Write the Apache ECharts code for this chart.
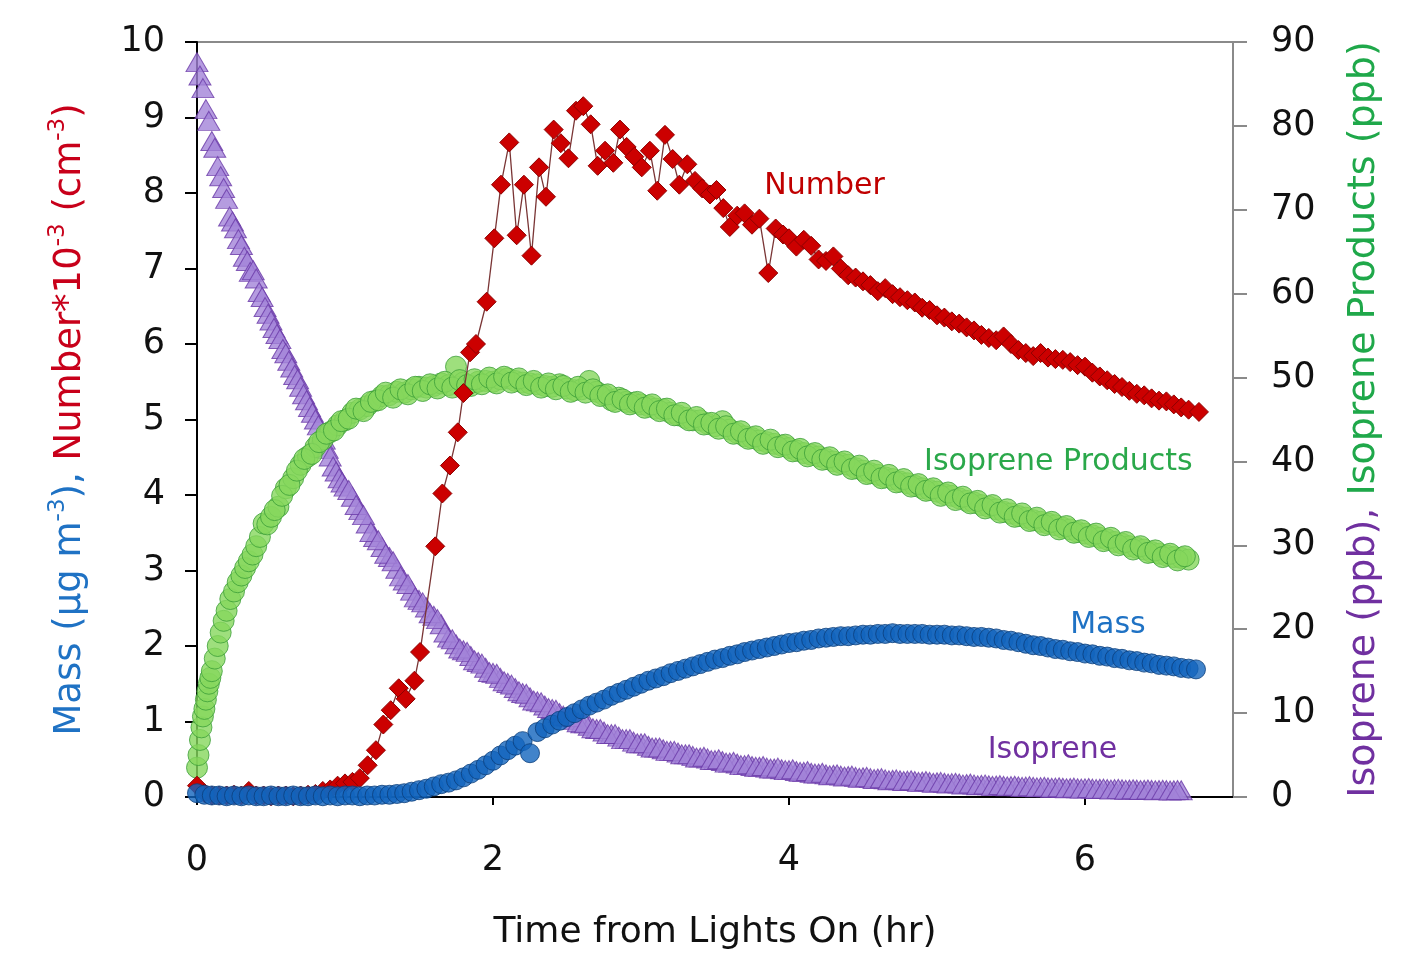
<!DOCTYPE html>
<html>
<head>
<meta charset="utf-8">
<script src="https://cdn.jsdelivr.net/npm/echarts@6/dist/echarts.min.js"></script>
<style>
  html, body { margin: 0; padding: 0; background: #ffffff; }
  #chart { width: 1411px; height: 980px; }
</style>
</head>
<body>
<div id="chart"></div>
<script>
// Chamber run: particle mass/number (left axis) and isoprene/products (right axis)
// versus time after the lights are switched on.

// Sampling times (hr) for aerosol mass
const massTime = [
  0.00,0.05,0.10,0.15,0.20,0.25,0.30,0.35,0.40,0.45,0.50,0.55,0.60,0.65,0.70,0.75,0.80,0.85,0.90,0.95,
  1.00,1.05,1.10,1.15,1.20,1.25,1.30,1.35,1.40,1.45,1.50,1.55,1.60,1.65,1.70,1.75,1.80,1.85,1.90,1.95,
  2.00,2.05,2.10,2.15,2.20,2.25,2.30,2.35,2.40,2.45,2.50,2.55,2.60,2.65,2.70,2.75,2.80,2.85,2.90,2.95,
  3.00,3.05,3.10,3.15,3.20,3.25,3.30,3.35,3.40,3.45,3.50,3.55,3.60,3.65,3.70,3.75,3.80,3.85,3.90,3.95,
  4.00,4.05,4.10,4.15,4.20,4.25,4.30,4.35,4.40,4.45,4.50,4.55,4.60,4.65,4.70,4.75,4.80,4.85,4.90,4.95,
  5.00,5.05,5.10,5.15,5.20,5.25,5.30,5.35,5.40,5.45,5.50,5.55,5.60,5.65,5.70,5.75,5.80,5.85,5.90,5.95,
  6.00,6.05,6.10,6.15,6.20,6.25,6.30,6.35,6.40,6.45,6.50,6.55,6.60,6.65,6.70,6.75
];
// Aerosol mass (µg m-3)
const massValue = [
  0.05,0.03,0.02,0.02,0.01,0.02,0.01,0.02,0.01,0.01,0.02,0.01,0.01,0.02,0.01,0.01,0.02,0.01,0.02,0.01,
  0.02,0.02,0.01,0.02,0.02,0.03,0.03,0.04,0.05,0.07,0.09,0.11,0.14,0.17,0.19,0.22,0.26,0.31,0.36,0.42,
  0.48,0.55,0.62,0.68,0.74,0.58,0.86,0.91,0.96,1.01,1.06,1.11,1.16,1.21,1.25,1.29,1.34,1.38,1.42,1.46,
  1.50,1.54,1.57,1.60,1.64,1.67,1.70,1.73,1.76,1.79,1.82,1.84,1.87,1.89,1.92,1.94,1.96,1.98,2.00,2.02,
  2.04,2.05,2.07,2.08,2.10,2.11,2.12,2.13,2.13,2.14,2.15,2.15,2.16,2.16,2.17,2.16,2.16,2.16,2.16,2.15,
  2.15,2.15,2.14,2.14,2.13,2.12,2.12,2.11,2.10,2.08,2.07,2.05,2.03,2.01,2.00,1.98,1.96,1.95,1.93,1.92,
  1.90,1.89,1.87,1.86,1.84,1.83,1.81,1.80,1.78,1.77,1.75,1.74,1.73,1.71,1.70,1.69
];

// Particle number (x10^-3 cm-3)
const numberTime = [
  0.00,0.05,0.10,0.15,0.20,0.25,0.30,0.35,0.40,0.45,0.50,0.55,0.60,0.65,0.70,0.75,0.80,0.85,0.90,0.95,
  1.00,1.05,1.10,1.153,1.209,1.259,1.309,1.363,1.41,1.469,1.507,1.61,1.658,1.709,1.762,1.80,1.845,1.885,1.957,
  2.009,2.054,2.11,2.16,2.209,2.26,2.311,2.358,2.41,2.458,2.51,2.561,2.61,2.66,2.707,2.757,2.813,2.858,2.903,2.955,
  3.005,3.06,3.11,3.162,3.214,3.259,3.313,3.365,3.414,3.466,3.51,3.556,3.60,3.65,3.70,3.75,3.80,3.86,3.91,3.96,
  4.00,4.05,4.10,4.15,4.20,4.25,4.30,4.35,4.40,4.45,4.50,4.55,4.60,4.65,4.70,4.75,4.80,4.85,4.90,4.95,
  5.00,5.05,5.10,5.15,5.20,5.25,5.30,5.35,5.40,5.45,5.50,5.55,5.60,5.65,5.70,5.75,5.80,5.85,5.90,5.95,
  6.00,6.05,6.10,6.15,6.20,6.25,6.30,6.35,6.40,6.45,6.50,6.55,6.60,6.65,6.70,6.77
];
const numberValue = [
  0.15,0.05,0.02,0.02,0.02,0.03,0.02,0.08,0.02,0.02,0.01,0.02,0.02,0.01,0.02,0.03,0.04,0.08,0.10,0.15,
  0.18,0.20,0.25,0.42,0.62,0.96,1.15,1.44,1.30,1.54,1.92,3.32,4.02,4.39,4.83,5.35,5.89,6.00,6.56,
  7.40,8.11,8.67,7.44,8.11,7.17,8.34,7.95,8.84,8.66,8.46,9.09,9.15,8.91,8.36,8.56,8.40,8.84,8.61,8.48,
  8.34,8.56,8.03,8.77,8.45,8.11,8.38,8.16,8.06,7.98,8.04,7.80,7.55,7.70,7.73,7.58,7.66,6.94,7.53,7.45,
  7.40,7.29,7.38,7.30,7.12,7.10,7.16,7.00,6.91,6.88,6.83,6.78,6.70,6.74,6.66,6.62,6.58,6.55,6.48,6.45,
  6.38,6.35,6.30,6.27,6.22,6.18,6.12,6.08,6.05,6.10,6.00,5.92,5.88,5.84,5.88,5.82,5.80,5.79,5.76,5.72,
  5.70,5.62,5.57,5.52,5.47,5.43,5.38,5.34,5.32,5.28,5.25,5.24,5.20,5.16,5.13,5.10
];

// Isoprene (ppb)
const isopreneTime = [
  0.00,0.02,0.04,0.06,0.08,0.10,0.12,0.14,0.16,0.18,0.20,0.22,0.24,0.26,0.28,0.30,0.32,0.34,0.36,0.38,
  0.40,0.42,0.44,0.46,0.48,0.50,0.52,0.54,0.56,0.58,0.60,0.62,0.64,0.66,0.68,0.70,0.72,0.74,0.76,0.78,
  0.80,0.82,0.84,0.86,0.88,0.90,0.92,0.94,0.96,0.98,
  1.00,1.05,1.10,1.15,1.20,1.25,1.30,1.35,1.40,1.45,1.50,1.55,1.60,1.65,1.70,1.75,1.80,1.85,1.90,1.95,
  2.00,2.05,2.10,2.15,2.20,2.25,2.30,2.35,2.40,2.45,2.50,2.55,2.60,2.65,2.70,2.75,2.80,2.85,2.90,2.95,
  3.00,3.05,3.10,3.15,3.20,3.25,3.30,3.35,3.40,3.45,3.50,3.55,3.60,3.65,3.70,3.75,3.80,3.85,3.90,3.95,
  4.00,4.05,4.10,4.15,4.20,4.25,4.30,4.35,4.40,4.45,4.50,4.55,4.60,4.65,4.70,4.75,4.80,4.85,4.90,4.95,
  5.00,5.05,5.10,5.15,5.20,5.25,5.30,5.35,5.40,5.45,5.50,5.55,5.60,5.65,5.70,5.75,5.80,5.85,5.90,5.95,
  6.00,6.05,6.10,6.15,6.20,6.25,6.30,6.35,6.40,6.45,6.50,6.55,6.60,6.65,
  1.025,1.075,1.125,1.175,1.225,1.275,1.325,1.375,1.425,1.475,1.525,1.575,1.625,1.675,1.725,1.775,1.825,1.875,1.925,1.975,
  2.025,2.075,2.125,2.175,2.225,2.275,2.325,2.375,2.425,2.475,2.525,2.575,2.625,2.675,2.725,2.775,2.825,2.875,2.925,2.975,
  3.025,3.075,3.125,3.175,3.225,3.275,3.325,3.375,3.425,3.475,3.525,3.575,3.625,3.675,3.725,3.775,3.825,3.875,3.925,3.975,
  4.025,4.075,4.125,4.175,4.225,4.275,4.325,4.375,4.425,4.475,4.525,4.575,4.625,4.675,4.725,4.775,4.825,4.875,4.925,4.975,
  5.025,5.075,5.125,5.175,5.225,5.275,5.325,5.375,5.425,5.475,5.525,5.575,5.625,5.675,5.725,5.775,5.825,5.875,5.925,5.975,
  6.025,6.075,6.125,6.175,6.225,6.275,6.325,6.375,6.425,6.475,6.525,6.575,6.625
];
const isopreneValue = [
  87.6,86.0,84.5,82.0,80.6,78.2,77.4,75.2,74.0,72.6,71.3,69.2,68.6,67.8,66.5,65.8,64.4,63.9,62.6,62.8,
  61.8,60.2,59.6,58.4,57.6,56.8,55.9,55.2,54.6,53.4,52.9,52.0,51.2,50.3,49.8,48.9,48.0,47.3,46.5,45.8,
  45.0,44.3,43.2,42.6,41.5,40.6,39.4,38.8,38.0,37.5,
  37.0,35.8,34.2,32.6,31.0,29.8,28.6,27.2,25.8,24.6,23.5,22.6,21.6,20.6,19.0,18.2,17.5,16.8,16.1,15.4,
  14.8,14.2,13.6,13.0,12.4,11.9,11.4,10.9,10.5,10.0,9.6,9.2,8.8,8.5,8.1,7.8,7.5,7.2,6.9,6.6,
  6.4,6.1,5.9,5.7,5.5,5.3,5.1,4.9,4.7,4.6,4.4,4.3,4.1,4.0,3.8,3.7,3.6,3.5,3.4,3.3,
  3.2,3.1,3.0,2.9,2.8,2.7,2.65,2.55,2.5,2.4,2.35,2.25,2.2,2.1,2.05,2.0,1.95,1.9,1.85,1.8,
  1.75,1.7,1.65,1.6,1.55,1.5,1.45,1.4,1.37,1.33,1.3,1.27,1.24,1.21,1.18,1.15,1.12,1.1,1.07,1.05,
  1.03,1.0,0.98,0.96,0.94,0.92,0.9,0.88,0.86,0.85,0.83,0.82,0.8,0.8,
  36.6,34.8,33.6,31.6,30.6,29.0,28.1,26.3,25.4,23.8,23.2,21.9,21.2,19.6,18.8,17.7,17.3,16.3,15.9,14.9,
  14.7,13.8,13.4,12.6,12.3,11.5,11.3,10.6,10.4,9.7,9.5,8.9,8.8,8.2,8.1,7.5,7.5,6.9,6.9,6.4,
  6.4,5.9,5.9,5.5,5.5,5.1,5.1,4.7,4.8,4.4,4.5,4.1,4.2,3.8,3.9,3.6,3.7,3.4,3.5,3.2,
  3.3,3.0,3.1,2.8,2.9,2.6,2.7,2.45,2.55,2.3,2.4,2.15,2.25,2.0,2.1,1.9,2.0,1.8,1.9,1.7,
  1.8,1.6,1.7,1.5,1.6,1.4,1.5,1.33,1.42,1.27,1.35,1.21,1.3,1.15,1.22,1.1,1.16,1.05,1.12,1.0,
  1.07,0.95,1.0,0.9,0.97,0.87,0.93,0.83,0.9,0.8,0.86,0.78,0.83
];

// Isoprene oxidation products (ppb)
const productsTime = [
  0.00,0.01,0.02,0.03,0.04,0.05,0.06,0.07,0.08,0.09,0.10,0.12,0.14,0.16,0.18,0.20,
  0.225,0.25,0.275,0.30,0.325,0.35,0.375,0.40,0.425,0.45,0.475,
  0.50,0.55,0.60,0.65,0.70,0.75,0.80,0.85,0.90,0.95,
  1.00,1.05,1.10,1.15,1.20,1.25,1.30,1.35,1.40,1.45,1.50,1.55,1.60,1.65,1.70,1.75,1.80,1.85,1.90,1.95,
  2.00,2.05,2.10,2.15,2.20,2.25,2.30,2.35,2.40,2.45,2.50,2.55,2.60,2.65,2.70,2.75,2.80,2.85,2.90,2.95,
  3.00,3.05,3.10,3.15,3.20,3.25,3.30,3.35,3.40,3.45,3.50,3.55,3.60,3.65,3.70,3.75,3.80,3.85,3.90,3.95,
  4.00,4.05,4.10,4.15,4.20,4.25,4.30,4.35,4.40,4.45,4.50,4.55,4.60,4.65,4.70,4.75,4.80,4.85,4.90,4.95,
  5.00,5.05,5.10,5.15,5.20,5.25,5.30,5.35,5.40,5.45,5.50,5.55,5.60,5.65,5.70,5.75,5.80,5.85,5.90,5.95,
  6.00,6.05,6.10,6.15,6.20,6.25,6.30,6.35,6.40,6.45,6.50,6.55,6.60,6.65,6.70,
  0.525,0.575,0.625,0.675,0.725,0.775,0.825,0.875,0.925,0.975,
  1.025,1.075,1.125,1.175,1.225,1.275,1.325,1.375,1.425,1.475,1.525,1.575,1.625,1.675,1.725,1.775,1.825,1.875,1.925,1.975,
  2.025,2.075,2.125,2.175,2.225,2.275,2.325,2.375,2.425,2.475,2.525,2.575,2.625,2.675,2.725,2.775,2.825,2.875,2.925,2.975,
  3.025,3.075,3.125,3.175,3.225,3.275,3.325,3.375,3.425,3.475,3.525,3.575,3.625,3.675,3.725,3.775,3.825,3.875,3.925,3.975,
  4.025,4.075,4.125,4.175,4.225,4.275,4.325,4.375,4.425,4.475,4.525,4.575,4.625,4.675,4.725,4.775,4.825,4.875,4.925,4.975,
  5.025,5.075,5.125,5.175,5.225,5.275,5.325,5.375,5.425,5.475,5.525,5.575,5.625,5.675,5.725,5.775,5.825,5.875,5.925,5.975,
  6.025,6.075,6.125,6.175,6.225,6.275,6.325,6.375,6.425,6.475,6.525,6.575,6.625,6.675
];
const productsValue = [
  3.5,5.0,6.8,8.3,9.6,10.5,11.6,12.6,13.5,14.2,15.0,16.5,18.0,19.6,21.0,22.2,
  23.6,24.5,25.6,26.4,27.3,28.1,28.9,29.9,31.0,32.6,32.5,
  33.4,34.6,36.8,38.0,39.6,40.6,41.7,42.6,43.5,44.3,
  44.9,45.8,46.2,46.6,47.2,47.8,47.9,48.3,48.2,48.6,48.9,48.8,49.0,49.3,49.1,51.3,49.4,49.0,49.5,49.6,
  49.5,49.8,49.9,49.6,49.4,49.3,49.2,49.0,48.9,49.2,48.7,48.5,48.6,49.6,48.3,47.9,47.3,47.6,47.1,47.0,
  46.8,46.6,46.3,46.2,45.8,45.5,45.2,44.9,44.9,44.5,44.2,44.8,43.8,43.4,43.0,42.8,42.5,42.3,42.1,41.9,
  41.6,41.3,41.0,40.8,40.6,40.3,40.0,39.8,39.6,39.2,38.9,38.6,38.4,38.1,37.9,37.6,37.4,37.1,36.8,36.6,
  36.4,36.1,35.9,35.6,35.3,35.1,34.8,34.6,34.3,34.0,33.8,33.5,33.3,33.0,32.8,32.6,32.4,32.1,31.9,31.6,
  31.4,31.2,30.9,30.7,30.4,30.2,29.9,29.7,29.5,29.2,29.0,28.8,28.6,28.5,28.3,
  34.2,35.9,37.2,38.9,40.3,40.9,42.3,43.3,43.7,44.8,
  45.1,46.3,46.0,47.1,47.3,48.2,47.6,48.6,48.0,48.9,48.4,49.2,48.7,49.5,48.8,49.7,49.1,49.8,49.2,50.0,
  49.3,50.1,49.4,49.9,49.1,49.6,48.8,49.3,48.6,49.0,48.3,48.9,48.2,48.6,47.8,48.0,47.1,47.4,46.8,47.1,
  46.4,46.8,46.0,46.3,45.5,45.8,44.9,45.3,44.4,44.6,43.9,44.2,43.3,43.6,42.7,43.0,42.1,42.6,41.7,42.0,
  41.2,41.5,40.6,41.0,40.2,40.5,39.6,40.0,39.1,39.5,38.5,38.9,38.0,38.4,37.5,37.9,37.0,37.3,36.5,36.8,
  35.9,36.3,35.4,35.8,35.0,35.3,34.4,34.8,33.9,34.3,33.4,33.8,32.9,33.3,32.4,32.8,31.9,32.3,31.5,31.8,
  31.0,31.4,30.5,30.9,30.0,30.4,29.5,29.9,29.1,29.4,28.6,29.0,28.2,28.7
];

// Axis tick values
const timeTicks = [0, 2, 4, 6];

const FONT = '"DejaVu Sans", "Liberation Sans", Arial, sans-serif';
const pairs = (xs, ys) => xs.map((x, i) => [x, ys[i]]);

const chart = echarts.init(document.getElementById('chart'), null, { renderer: 'canvas' });

chart.setOption({
  animation: false,
  backgroundColor: '#ffffff',
  grid: {
    left: 197, right: 178, top: 42, bottom: 183,
    show: true, borderColor: '#8a8a8a', borderWidth: 2, backgroundColor: 'transparent'
  },
  xAxis: {
    type: 'value', min: 0, max: 7,
    axisLine: { show: true, onZero: false, lineStyle: { color: '#000', width: 2 } },
    axisTick: { show: true, inside: false, length: 8, customValues: timeTicks, lineStyle: { color: '#000', width: 2 } },
    axisLabel: { customValues: timeTicks, margin: 46, fontSize: 35, color: '#111', fontFamily: FONT },
    splitLine: { show: false },
    name: 'Time from Lights On (hr)',
    nameLocation: 'middle', nameGap: 118,
    nameTextStyle: { fontSize: 36, color: '#111', fontFamily: FONT }
  },
  yAxis: [
    {
      type: 'value', min: 0, max: 10, interval: 1, position: 'left',
      axisLine: { show: true, onZero: false, lineStyle: { color: '#000', width: 2 } },
      axisTick: { show: true, inside: false, length: 12, lineStyle: { color: '#000', width: 2 } },
      axisLabel: { margin: 32, fontSize: 35, color: '#111', fontFamily: FONT },
      splitLine: { show: false },
      name: '{b|Mass (µg m}{bs|-3}{b|), }{r|Number*10}{rs|-3}{r| (cm}{rs|-3}{r|)}',
      nameLocation: 'middle', nameRotate: 90, nameGap: 104,
      nameTextStyle: {
        fontFamily: FONT, fontSize: 37,
        rich: {
          b: { color: '#1f72c4', fontSize: 37, fontFamily: FONT, lineHeight: 46 },
          bs: { color: '#1f72c4', fontSize: 23, fontFamily: FONT, lineHeight: 26, verticalAlign: 'top' },
          r: { color: '#c8001a', fontSize: 37, fontFamily: FONT, lineHeight: 46 },
          rs: { color: '#c8001a', fontSize: 23, fontFamily: FONT, lineHeight: 26, verticalAlign: 'top' }
        }
      }
    },
    {
      type: 'value', min: 0, max: 90, interval: 10, position: 'right',
      axisLine: { show: true, onZero: false, lineStyle: { color: '#8a8a8a', width: 2 } },
      axisTick: { show: true, inside: false, length: 14, lineStyle: { color: '#8a8a8a', width: 2 } },
      axisLabel: { margin: 38, fontSize: 35, color: '#111', fontFamily: FONT },
      splitLine: { show: false },
      name: '{p|Isoprene (ppb), }{g|Isoprene Products (ppb)}',
      nameLocation: 'middle', nameRotate: 90, nameGap: 112,
      nameTextStyle: {
        fontFamily: FONT, fontSize: 38,
        rich: {
          p: { color: '#7030a0', fontSize: 38, fontFamily: FONT },
          g: { color: '#1fa84a', fontSize: 38, fontFamily: FONT }
        }
      }
    }
  ],
  series: [
    {
      name: 'Isoprene', type: 'scatter', xAxisIndex: 0, yAxisIndex: 1, clip: false,
      symbol: 'triangle', symbolSize: [22, 19],
      itemStyle: { color: '#a283d8', borderColor: '#6a3aa8', borderWidth: 1 },
      data: pairs(isopreneTime, isopreneValue), z: 2
    },
    {
      name: 'Isoprene Products', type: 'scatter', xAxisIndex: 0, yAxisIndex: 1, clip: false,
      symbol: 'circle', symbolSize: 21,
      itemStyle: { color: '#86d75c', borderColor: '#3c9f38', borderWidth: 1 },
      data: pairs(productsTime, productsValue), z: 3
    },
    {
      name: 'Number', type: 'line', xAxisIndex: 0, yAxisIndex: 0, clip: false,
      symbol: 'diamond', symbolSize: 19, showSymbol: true, showAllSymbol: true,
      lineStyle: { color: '#7a3535', width: 1.3 },
      itemStyle: { color: '#cc0000', borderColor: '#8e0000', borderWidth: 1 },
      data: pairs(numberTime, numberValue), z: 4
    },
    {
      name: 'Mass', type: 'scatter', xAxisIndex: 0, yAxisIndex: 0, clip: false,
      symbol: 'circle', symbolSize: 19,
      itemStyle: { color: '#1264bd', borderColor: '#0b3f7c', borderWidth: 1 },
      data: pairs(massTime, massValue), z: 5
    }
  ]
});

// In-plot series labels, anchored in data space on the left axis
const notes = [
  { text: 'Number', t: 4.24, v: 8.09, color: '#c00000' },
  { text: 'Isoprene Products', t: 5.82, v: 4.44, color: '#2aa84a' },
  { text: 'Mass', t: 6.155, v: 2.28, color: '#1f72c4' },
  { text: 'Isoprene', t: 5.78, v: 0.62, color: '#7030a0' }
];
chart.setOption({
  graphic: notes.map(n => {
    const p = chart.convertToPixel({ xAxisIndex: 0, yAxisIndex: 0 }, [n.t, n.v]);
    return {
      type: 'text', x: p[0], y: p[1], z: 10,
      style: { text: n.text, fill: n.color, fontSize: 30, fontFamily: FONT, align: 'center', verticalAlign: 'middle' }
    };
  })
});
</script>
</body>
</html>
